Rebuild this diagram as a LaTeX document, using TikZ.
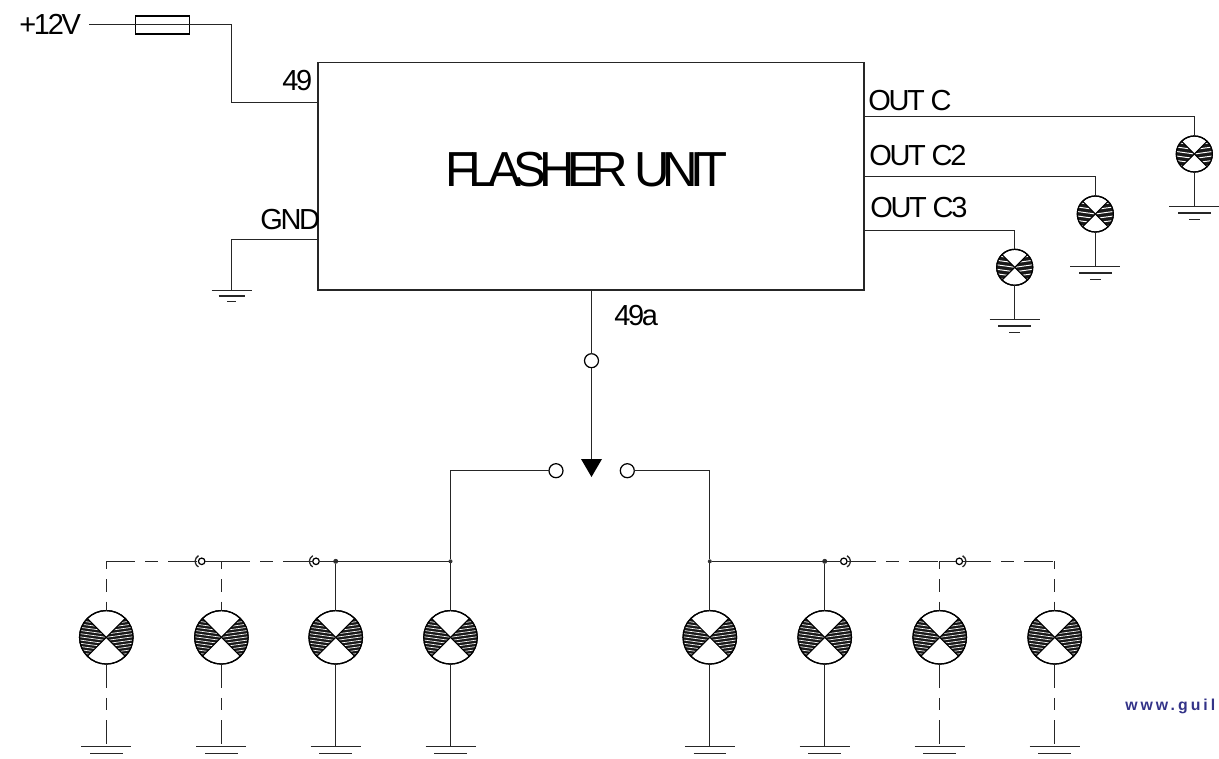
\documentclass[tikz,border=0pt]{standalone}
\usepackage{fontspec}
\setmainfont{Liberation Sans}
\usetikzlibrary{calc}
\definecolor{weblabel}{HTML}{333388}
\newfontfamily\tightfont[LetterSpace=-8]{Liberation Sans}
\newfontfamily\titlefont[LetterSpace=-15]{Liberation Sans}
\tikzset{
	wire/.style={line width=0.72pt, color=black!85},
	dashwire/.style={wire, dash pattern=on 16.4pt off 5.7pt on 7.4pt off 5.7pt},
	dashdrop/.style={wire, dash pattern=on 13.6pt off 5.7pt on 7pt off 5.7pt},
	dashtop/.style={dashdrop, dash phase=9pt},
	biglamp/.style={circle, draw, line width=0.7pt, inner sep=0, outer sep=0, minimum size=1.07cm},
	smalllamp/.style={circle, draw, line width=0.7pt, inner sep=0, outer sep=0, minimum size=0.72cm},
	contact/.style={circle, draw, line width=0.7pt, fill=white, inner sep=0, outer sep=0, minimum size=0.28cm},
	plug/.style={circle, draw, line width=0.7pt, fill=white, inner sep=0, outer sep=0, minimum size=0.13cm},
	junction/.style={circle, fill=black!80, inner sep=0, outer sep=0, minimum size=0.1cm},
	pinlabel/.style={font=\tightfont\fontsize{16.5}{16.5}\selectfont, inner sep=0, anchor=west}
}
\def\hatchleft(#1)(#2:#3){
	\begin{scope}
		\clip (#1.center) -- (#1.135) arc (225:135:#2) -- cycle;
		\fill[black!90] ($(#1.center)+(-#2,-#2)$) rectangle ($(#1.center)+(#2,#2)$);
		\foreach \k in {-10,...,10}
			\draw[white, line width={#3*0.12pt}] ($(#1.center)+(-#2,{\k*#3-0.14*#2})$) -- ($(#1.center)+(0,{\k*#3})$);
	\end{scope}
	\draw[line width=0.6pt] (#1.center) -- (#1.135) (#1.center) -- (#1.225);
}
\def\hatchright(#1)(#2:#3){
	\begin{scope}
		\clip (#1.center) -- (#1.45) arc (-45:45:#2) -- cycle;
		\fill[black!90] ($(#1.center)+(-#2,-#2)$) rectangle ($(#1.center)+(#2,#2)$);
		\foreach \k in {-10,...,10}
			\draw[white, line width={#3*0.12pt}] ($(#1.center)+(0,{\k*#3})$) -- ($(#1.center)+(#2,{\k*#3-0.14*#2})$);
	\end{scope}
	\draw[line width=0.6pt] (#1.center) -- (#1.45) (#1.center) -- (#1.-45);
}
\def\hatched(#1)(#2:#3){
	\hatchleft(#1)(#2:#3);
	\hatchright(#1)(#2:#3);
	\draw[line width=0.7pt] (#1) circle (#2);
}
\def\earth(#1)(#2:#3){
	\draw[wire] ($(#1)+(-#2,0)$) -- ($(#1)+(#2,0)$);
	\draw[wire] ($(#1)+({-0.65*#2},#3)$) -- ($(#1)+({0.65*#2},#3)$);
	\draw[wire] ($(#1)+({-0.22*#2},{2*#3})$) -- ($(#1)+({0.22*#2},{2*#3})$);
}
\begin{document}
\begin{tikzpicture}[x=0.02cm,y=-0.02cm]
	%%%%% START %%%%%
	\clip (0,0) rectangle (1219,758);

	\node[draw, line width=0.65pt, color=black!85, minimum width=10.92cm, minimum height=4.55cm, inner sep=0, outer sep=0, text=black] (flasher) at (591,176.2) {};
	\node[font=\titlefont\fontsize{28}{28}\selectfont, inner sep=0] (title) at (586.5,170) {FLASHER UNIT};

	% supply side
	\node[pinlabel] (supply) at (19,24) {+12V};
	\coordinate (supplyend) at (89,24.7);
	\node[draw, line width=0.6pt, inner sep=0, outer sep=0, minimum width=1.08cm, minimum height=0.36cm] (fuse) at (162.5,25) {};
	\coordinate (feedtop) at (231.5,24.7);
	\coordinate (feedpin) at (318,102.5);
	\draw[wire] (supplyend) -- (feedtop) |- (feedpin);
	\node[pinlabel] (pinfeed) at (282,81) {49};

	\node[pinlabel] (pinground) at (260,220) {GND};
	\coordinate (groundpin) at (318,239.5);
	\coordinate (groundfoot) at (231.5,290.5);
	\draw[wire] (groundpin) -| (groundfoot);
	\earth(groundfoot)(20:5.5);

	% outputs
	\node[pinlabel] (pinc) at (868,101) {OUT C};
	\node[pinlabel] (pincb) at (869,156) {OUT C2};
	\node[pinlabel] (pincc) at (870,208) {OUT C3};

	\coordinate (outc) at (864,116.7);
	\coordinate (outcb) at (864,176.3);
	\coordinate (outcc) at (864,230.4);

	\node[smalllamp] (lampc) at (1194.3,154) {};
	\node[smalllamp] (lampcb) at (1095.3,214) {};
	\node[smalllamp] (lampcc) at (1014.7,267.3) {};
	\hatched(lampc)(18:4.5);
	\hatched(lampcb)(18:4.5);
	\hatched(lampcc)(18:4.5);

	\coordinate (earthc) at (1194.3,206.7);
	\coordinate (earthcb) at (1095.3,266.7);
	\coordinate (earthcc) at (1014.7,319.7);

	\draw[wire] (outc) -| (lampc.north);
	\draw[wire] (outcb) -| (lampcb.north);
	\draw[wire] (outcc) -| (lampcc.north);
	\draw[wire] (lampc.south) -- (earthc);
	\draw[wire] (lampcb.south) -- (earthcb);
	\draw[wire] (lampcc.south) -- (earthcc);
	\earth(earthc)(25:6.3);
	\earth(earthcb)(25:6.3);
	\earth(earthcc)(25:6.3);

	% switch
	\node[pinlabel] (pinswitch) at (614,316) {49a};
	\coordinate (switchtop) at (591.5,290);
	\coordinate (switchtip) at (591.5,459);
	\node[contact] (contactmid) at (591.5,360.7) {};
	\node[contact] (contactleft) at (556,470.7) {};
	\node[contact] (contactright) at (627.3,470.7) {};
	\draw[wire] (switchtop) -- (contactmid);
	\draw[wire] (contactmid) -- (switchtip);
	\fill ($(switchtip)+(-10.5,0)$) -- ($(switchtip)+(10.5,0)$) -- ($(switchtip)+(0,18)$) -- cycle;

	% lamps
	\node[biglamp] (lampa) at (106.3,637.3) {};
	\node[biglamp] (lampb) at (221.4,637.3) {};
	\node[biglamp] (lampd) at (335.7,637.3) {};
	\node[biglamp] (lampe) at (450.5,637.3) {};
	\node[biglamp] (lampf) at (709.8,637.3) {};
	\node[biglamp] (lampg) at (824.7,637.3) {};
	\node[biglamp] (lamph) at (939.7,637.3) {};
	\node[biglamp] (lampi) at (1054.7,637.3) {};
	\hatched(lampa)(26.75:3.2);
	\hatched(lampb)(26.75:3.2);
	\hatched(lampd)(26.75:3.2);
	\hatched(lampe)(26.75:3.2);
	\hatched(lampf)(26.75:3.2);
	\hatched(lampg)(26.75:3.2);
	\hatched(lamph)(26.75:3.2);
	\hatched(lampi)(26.75:3.2);

	% bus
	\coordinate (busa) at (106.3,561.3);
	\coordinate (busb) at (221.4,561.3);
	\coordinate (bush) at (939.7,561.3);
	\coordinate (busi) at (1054.7,561.3);
	\node[junction] (busd) at (335.7,561.3) {};
	\node[junction, minimum size=0.08cm] (buse) at (450.5,561.3) {};
	\node[junction, minimum size=0.08cm] (busf) at (709.8,561.3) {};
	\node[junction] (busg) at (824.7,561.3) {};
	\node[plug] (plugb) at (201.7,561.3) {};
	\node[plug] (plugd) at (316,561.3) {};
	\node[plug] (plugg) at (843.8,561.3) {};
	\node[plug] (plugh) at (959.3,561.3) {};

	\draw[wire] (plugb) ++(120:6.5) arc (120:240:6.5);
	\draw[wire] (plugd) ++(120:6.5) arc (120:240:6.5);
	\draw[wire] (plugg) ++(60:6.5) arc (60:-60:6.5);
	\draw[wire] (plugh) ++(60:6.5) arc (60:-60:6.5);

	\draw[wire] (contactleft) -| (buse);
	\draw[wire] (contactright) -| (busf);
	\draw[wire] (buse) -- (plugd);
	\draw[wire] (busf) -- (plugg);
	\draw[dashwire] (busa) -- (plugb.west);
	\draw[wire] (plugb) -- (busb);
	\draw[dashwire] (busb) -- (plugd.west);
	\draw[dashwire] (plugg.east) -- (bush);
	\draw[wire] (bush) -- (plugh);
	\draw[dashwire] (plugh.east) -- (busi);

	\draw[dashtop] (busa) -- (lampa.north);
	\draw[dashtop] (busb) -- (lampb.north);
	\draw[wire] (busd) -- (lampd.north);
	\draw[wire] (buse) -- (lampe.north);
	\draw[wire] (busf) -- (lampf.north);
	\draw[wire] (busg) -- (lampg.north);
	\draw[dashtop] (bush) -- (lamph.north);
	\draw[dashtop] (busi) -- (lampi.north);

	\coordinate (eartha) at (106.3,746.7);
	\coordinate (earthb) at (221.4,746.7);
	\coordinate (earthd) at (335.7,746.7);
	\coordinate (earthe) at (450.5,746.7);
	\coordinate (earthf) at (709.8,746.7);
	\coordinate (earthg) at (824.7,746.7);
	\coordinate (earthh) at (939.7,746.7);
	\coordinate (earthi) at (1054.7,746.7);

	\draw[dashdrop] (lampa.south) -- (eartha);
	\draw[dashdrop] (lampb.south) -- (earthb);
	\draw[wire] (lampd.south) -- (earthd);
	\draw[wire] (lampe.south) -- (earthe);
	\draw[wire] (lampf.south) -- (earthf);
	\draw[wire] (lampg.south) -- (earthg);
	\draw[dashdrop] (lamph.south) -- (earthh);
	\draw[dashdrop] (lampi.south) -- (earthi);

	\earth(eartha)(25:6.6);
	\earth(earthb)(25:6.6);
	\earth(earthd)(25:6.6);
	\earth(earthe)(25:6.6);
	\earth(earthf)(25:6.6);
	\earth(earthg)(25:6.6);
	\earth(earthh)(25:6.6);
	\earth(earthi)(25:6.6);

	\node[font=\bfseries\fontsize{9}{9}\selectfont\addfontfeature{LetterSpace=19}, text=weblabel, inner sep=0, anchor=west] (weblink) at (1125,706) {www.guil};

	%%%%% END %%%%%
\end{tikzpicture}
\end{document}
